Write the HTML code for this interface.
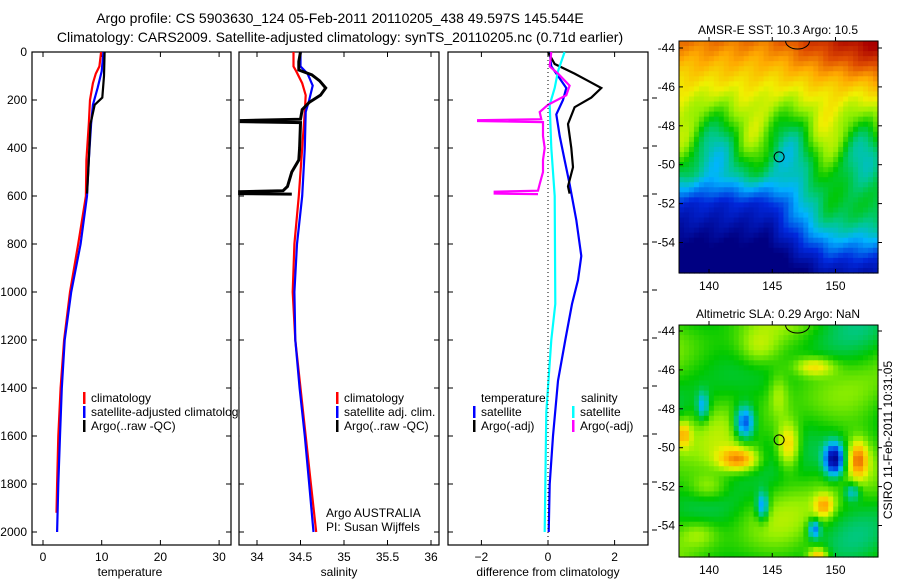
<!DOCTYPE html>
<html><head><meta charset="utf-8"><style>
html,body{margin:0;padding:0;background:#fff;}
svg{display:block;font-family:"Liberation Sans",sans-serif;}
</style></head><body>
<svg id="s" width="900" height="580" viewBox="0 0 900 580" xmlns="http://www.w3.org/2000/svg">
<rect width="900" height="580" fill="#fff"/>
<text x="340" y="23" font-size="14" text-anchor="middle">Argo profile: CS 5903630_124 05-Feb-2011 20110205_438 49.597S 145.544E</text>
<text x="340" y="42" font-size="14" text-anchor="middle">Climatology: CARS2009. Satellite-adjusted climatology: synTS_20110205.nc (0.71d earlier)</text>
<g id="maps"></g>
<g id="plots"></g>
</svg>
<script>
var NS="http://www.w3.org/2000/svg",S=document.getElementById('s'),P=document.getElementById('plots'),M=document.getElementById('maps');
function el(t,a,p,txt){var e=document.createElementNS(NS,t);for(var k in a)e.setAttribute(k,a[k]);if(txt!==undefined)e.textContent=txt;(p||P).appendChild(e);return e;}
function txt(x,y,s,o){o=o||{};var a={x:x,y:y,'font-size':o.fs||12};if(o.a)a['text-anchor']=o.a;if(o.t)a.transform=o.t;return el('text',a,o.p,s);}
var T=52,B=545;
function yd(d){return 52+0.24*d;}
var pans=[[32,231],[239,439],[448,648]];
pans.forEach(function(p){el('rect',{x:p[0],y:T,width:p[1]-p[0],height:B-T,fill:'none',stroke:'#000','stroke-width':1.2});
 for(var d=0;d<=2000;d+=200){var y=yd(d);el('line',{x1:p[0],x2:p[0]+5,y1:y,y2:y,stroke:'#000'});el('line',{x1:p[1]-5,x2:p[1],y1:y,y2:y,stroke:'#000'});}});
for(var d=0;d<=2000;d+=200)txt(27,yd(d)+4,String(d),{a:'end'});
function xt(p,vals,f){vals.forEach(function(v){var x=f(v);el('line',{x1:x,x2:x,y1:B,y2:B-5,stroke:'#000'});el('line',{x1:x,x2:x,y1:T,y2:T+5,stroke:'#000'});txt(x,B+16,String(v),{a:'middle'});});}
var fT=function(v){return 43+5.87*v},fS=function(v){return 257+87*(v-34)},fD=function(v){return 548+33.3*v};
xt(0,[0,10,20,30],fT);xt(1,[34,34.5,35,35.5,36],fS);
[-2,0,2].forEach(function(v){var x=fD(v);el('line',{x1:x,x2:x,y1:B,y2:B-5,stroke:'#000'});el('line',{x1:x,x2:x,y1:T,y2:T+5,stroke:'#000'});txt(x,B+16,v<0?'\u22122':String(v),{a:'middle'});});
txt(130,576,'temperature',{a:'middle'});txt(339,576,'salinity',{a:'middle'});txt(548,576,'difference from climatology',{a:'middle'});
for(var y=yd(200);y<B;y+=yd(400)-yd(200)){el('line',{x1:652,x2:657,y1:y-2,y2:y-2,stroke:'#000'});}
function line(pts,f,col,w){var s=pts.map(function(q){return f(q[1]).toFixed(1)+','+yd(q[0]).toFixed(1)}).join(' ');el('polyline',{points:s,fill:'none',stroke:col,'stroke-width':w||2.2});}
line([[0,9.9],[60,9.6],[90,9.0],[130,8.5],[200,8.0],[300,7.8],[450,7.4],[600,7.3],[800,6.0],[1000,4.6],[1200,3.6],[1400,3.0],[1600,2.6],[1800,2.4],[1920,2.3]],fT,'#f00');
line([[0,10.3],[80,10.0],[150,9.3],[220,8.5],[300,8.2],[450,7.8],[600,7.5],[800,6.4],[1000,4.8],[1200,3.7],[1400,3.2],[1600,2.9],[1800,2.6],[2000,2.4]],fT,'#00f');
line([[0,10.5],[100,10.4],[190,10.1],[220,8.8],[300,8.1],[450,7.8],[500,7.7],[590,7.5]],fT,'#000');
line([[0,34.42],[60,34.42],[80,34.45],[130,34.52],[180,34.56],[250,34.55],[400,34.52],[600,34.48],[800,34.43],[1000,34.41],[1200,34.44],[1400,34.5],[1600,34.56],[1800,34.62],[2000,34.68]],fS,'#f00');
line([[0,34.5],[60,34.5],[90,34.58],[140,34.64],[200,34.6],[250,34.56],[400,34.55],[600,34.52],[800,34.46],[1000,34.43],[1200,34.44],[1400,34.49],[1600,34.55],[1800,34.6],[2000,34.65]],fS,'#00f');
line([[0,34.5],[40,34.48],[75,34.48],[95,34.63],[120,34.72],[150,34.79],[180,34.73],[210,34.6],[240,34.52],[280,34.5],[286,33.82],[290,33.82],[294,34.5],[400,34.49],[450,34.48],[500,34.4],[560,34.35],[578,34.3],[582,33.8],[590,33.8],[592,34.4]],fS,'#000',3);
line([[0,0.05],[60,0.1],[100,0.3],[150,0.55],[200,0.45],[260,0.25],[350,0.35],[450,0.5],[550,0.65],[700,0.85],[850,1.0],[950,0.9],[1050,0.72],[1200,0.52],[1370,0.3],[1600,0.15],[1800,0.05],[2000,0.02]],fD,'#00f');
line([[0,0.0],[50,0.2],[90,0.8],[120,1.2],[150,1.6],[190,1.3],[230,0.8],[300,0.6],[400,0.7],[480,0.75],[560,0.6],[590,0.65]],fD,'#000');
line([[0,0.5],[80,0.3],[150,0.2],[220,0.05],[400,0.1],[600,0.2],[1050,0.22],[1200,0.1],[1500,-0.05],[2000,-0.1]],fD,'#0ff');
line([[0,0.1],[60,0.05],[90,0.3],[140,0.65],[180,0.55],[220,0.0],[250,-0.25],[280,-0.2],[284,-2.1],[288,-2.1],[292,-0.15],[350,-0.15],[400,-0.1],[450,-0.15],[500,-0.15],[550,-0.25],[578,-0.3],[582,-1.6],[590,-1.6],[592,-0.3]],fD,'#f0f');
el('line',{x1:548,x2:548,y1:T,y2:B,stroke:'#000','stroke-dasharray':'1,3'});
function leg(x,y,col,s){el('rect',{x:x,y:y-10,width:2.5,height:12,fill:col});txt(x+8,y,s);}
leg(83,402,'#f00','climatology');leg(83,416,'#00f','satellite-adjusted climatology');leg(83,430,'#000','Argo(..raw -QC)');
el('rect',{x:239.6,y:380,width:6,height:60,fill:'#fff'});
leg(336,402,'#f00','climatology');leg(336,416,'#00f','satellite adj. clim.');leg(336,430,'#000','Argo(..raw -QC)');
txt(326,517,'Argo AUSTRALIA');txt(326,531,'PI: Susan Wijffels');
txt(481,402,'temperature');leg(473,416,'#00f','satellite');leg(473,430,'#000','Argo(-adj)');
txt(581,402,'salinity');leg(572,416,'#0ff','satellite');leg(572,430,'#f0f','Argo(-adj)');
var stops=[[0,0,0,130],[0.15,0,40,220],[0.3,0,180,255],[0.4,0,200,140],[0.5,0,200,0],[0.6,150,240,0],[0.67,240,240,0],[0.77,255,170,0],[0.87,225,80,0],[1,170,0,0]];
function jet(v){v=Math.max(0,Math.min(1,v));for(var i=1;i<stops.length;i++){if(v<=stops[i][0]){var a=stops[i-1],b=stops[i],t=(v-a[0])/(b[0]-a[0]);
 return 'rgb('+Math.round(a[1]+t*(b[1]-a[1]))+','+Math.round(a[2]+t*(b[2]-a[2]))+','+Math.round(a[3]+t*(b[3]-a[3]))+')';}}return 'rgb(170,0,0)';}
var X0=679,X1=878,NX=40,NY=46;
function fx(lon){return 709+(lon-140)*12.65;}
function sst(x,y){var v=0.83-0.78*y+0.13*Math.sin(17*x+1.5)*Math.exp(-Math.pow((y-0.45)/0.15,2));
 var sx=Math.min(1,Math.max(0,(x-0.45)/0.3));v+=0.2*sx*Math.exp(-Math.pow((y-0.75)/0.17,2));
 var dy=Math.min(1,Math.max(0,(y-0.58)/0.12));v-=0.15*dy*(1-sx);
 v+=0.35*Math.max(0,x-0.45)*Math.exp(-Math.pow(y/0.18,2));v+=0.1*Math.max(0,x-0.5)*Math.exp(-Math.pow((y-0.35)/0.12,2));v+=0.015*Math.sin(40*x+30*y);return v;}
var blobs=[[0.33,0.42,-0.38,0.05,0.07],[0.78,0.58,-0.5,0.05,0.07],[0.12,0.35,-0.22,0.03,0.06],[0.42,0.78,-0.28,0.03,0.06],[0.68,0.88,-0.3,0.03,0.04],[0.87,0.72,-0.2,0.04,0.04],
 [0.3,0.58,0.28,0.1,0.05],[0.55,0.52,0.26,0.06,0.1],[0.9,0.58,0.28,0.05,0.08],[0.02,0.47,0.22,0.04,0.06],[0.68,0.18,0.18,0.1,0.04],[0.73,0.78,0.22,0.05,0.05],[0.7,1.0,0.26,0.05,0.04],[0.15,0.7,0.12,0.1,0.06],[0.5,0.3,0.1,0.05,0.1],[0.4,0.1,0.1,0.1,0.08],[0.1,0.9,0.1,0.1,0.06]];
function sla(x,y){var v=0.52+0.06*Math.sin(9*x+3)*Math.cos(7*y)+0.05*Math.sin(14*y+5*x);
 blobs.forEach(function(b){v+=b[2]*Math.exp(-Math.pow((x-b[0])/b[3],2)-Math.pow((y-b[1])/b[4],2));});return v;}
function map(top,bot,f,lat0,title){var w=(X1-X0)/NX,h=(bot-top)/NY;
 for(var i=0;i<NX;i++)for(var j=0;j<NY;j++){el('rect',{x:(X0+i*w).toFixed(2),y:(top+j*h).toFixed(2),width:(w+0.6).toFixed(2),height:(h+0.6).toFixed(2),fill:jet(f((i+0.5)/NX,(j+0.5)/NY))},M);}
 el('rect',{x:X0,y:top,width:X1-X0,height:bot-top,fill:'none',stroke:'#000'},M);
 for(var lat=44;lat<=54;lat+=2){var y=lat0+(lat-44)*19.45;el('line',{x1:X0,x2:X0+4,y1:y,y2:y,stroke:'#000'},M);el('line',{x1:X1,x2:X1+4,y1:y,y2:y,stroke:'#000'},M);txt(675,y+4,String(-lat),{a:'end',p:M});}
 [140,145,150].forEach(function(l){var x=fx(l);el('line',{x1:x,x2:x,y1:top-4,y2:top,stroke:'#000'},M);el('line',{x1:x,x2:x,y1:bot,y2:bot-4,stroke:'#000'},M);txt(x,bot+17,String(l),{a:'middle',p:M});});
 txt(778,top-7,title,{a:'middle',p:M});
 el('circle',{cx:fx(145.544),cy:lat0+5.597*19.45,r:5,fill:'none',stroke:'#000'},M);
 el('path',{d:'M'+(fx(147)-12)+','+top+' A12,8 0 0,0 '+(fx(147)+12)+','+top,fill:'none',stroke:'#000'},M);}
map(41,273,sst,48,'AMSR-E SST: 10.3  Argo: 10.5');
map(325,557,sla,331,'Altimetric SLA: 0.29  Argo: NaN');
var r=txt(0,0,'CSIRO 11-Feb-2011 10:31:05',{a:'middle',p:M});r.setAttribute('transform','translate(892,440) rotate(-90)');
</script>
</body></html>
